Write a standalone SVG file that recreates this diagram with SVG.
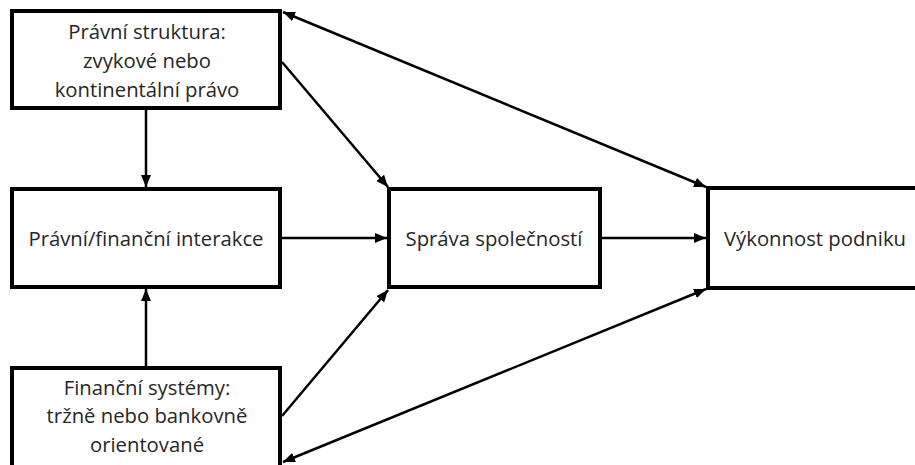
<svg xmlns="http://www.w3.org/2000/svg" width="915" height="465" viewBox="0 0 915 465">
  <defs>
    <marker id="arrow" viewBox="0 0 12 10" refX="12" refY="5" markerWidth="12" markerHeight="10" markerUnits="userSpaceOnUse" orient="auto-start-reverse">
      <path d="M0,0 L12,5 L0,10 Z" fill="#000"/>
    </marker>
    <style>
      .box { fill: #fff; stroke: #000; stroke-width: 4; }
      .lbl { font-family: "Open Sans", "Noto Sans", "Liberation Sans", sans-serif; font-size: 20.3px; fill: #262626; text-anchor: middle; }
      .edge { fill: none; stroke: #000; stroke-width: 2.5; }
      .one { marker-end: url(#arrow); }
      .two { marker-start: url(#arrow); marker-end: url(#arrow); }
    </style>
  </defs>
  <rect width="915" height="465" fill="#fff"/>

  <!-- connectors -->
  <g id="connectors">
    <line class="edge one" x1="146" y1="110" x2="146" y2="187"/>
    <line class="edge one" x1="146" y1="366" x2="146" y2="289"/>
    <line class="edge one" x1="282" y1="238" x2="387" y2="238"/>
    <line class="edge one" x1="602" y1="238" x2="706" y2="238"/>
    <line class="edge one" x1="282" y1="62" x2="388" y2="187"/>
    <line class="edge one" x1="282" y1="416" x2="388" y2="290"/>
    <line class="edge two" x1="283" y1="12" x2="706" y2="187"/>
    <line class="edge two" x1="283" y1="462" x2="706" y2="289"/>
  </g>

  <!-- nodes -->
  <g id="pravni-struktura">
    <rect class="box" x="12" y="11" width="268" height="97"/>
    <text class="lbl" x="147" y="39">Právní struktura:</text>
    <text class="lbl" x="147" y="68">zvykové nebo</text>
    <text class="lbl" x="147" y="97">kontinentální právo</text>
  </g>
  <g id="interakce">
    <rect class="box" x="12" y="189" width="268" height="98"/>
    <text class="lbl" x="146" y="246">Právní/finanční interakce</text>
  </g>
  <g id="financni-systemy">
    <rect class="box" x="12" y="368" width="268" height="120"/>
    <text class="lbl" x="147" y="395">Finanční systémy:</text>
    <text class="lbl" x="147" y="423">tržně nebo bankovně</text>
    <text class="lbl" x="147" y="452">orientované</text>
  </g>
  <g id="sprava">
    <rect class="box" x="389" y="189" width="211" height="98"/>
    <text class="lbl" x="494" y="246">Správa společností</text>
  </g>
  <g id="vykonnost">
    <rect class="box" x="708" y="188" width="230" height="100"/>
    <text class="lbl" x="815" y="246">Výkonnost podniku</text>
  </g>
</svg>
